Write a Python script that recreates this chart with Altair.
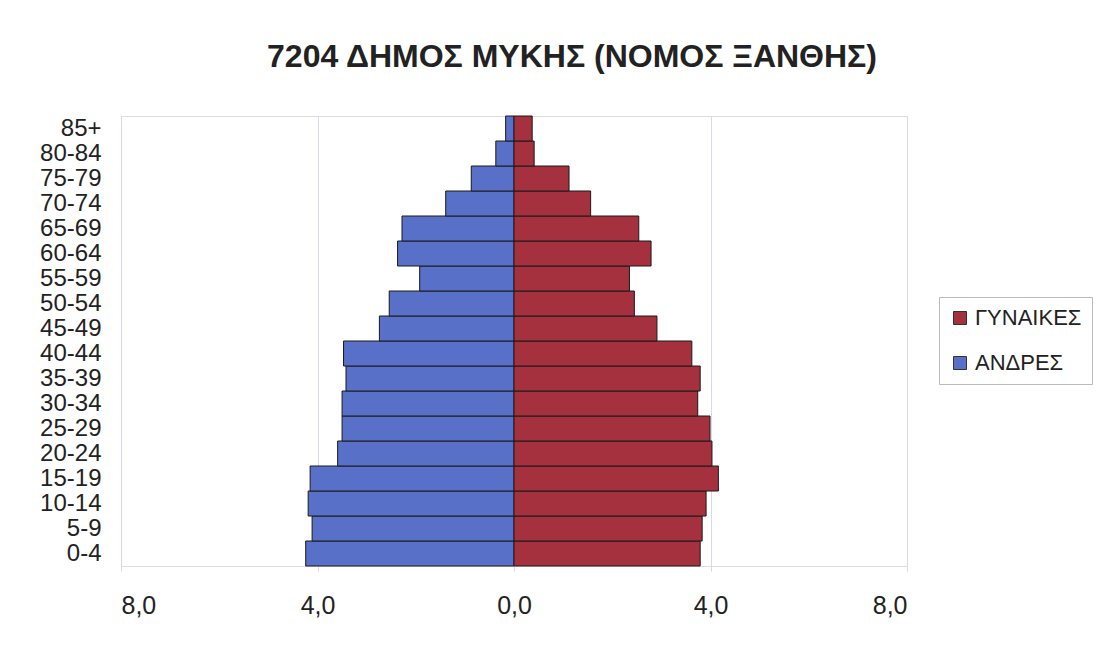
import altair as alt
import pandas as pd

ages = ["0-4", "5-9", "10-14", "15-19", "20-24", "25-29", "30-34", "35-39",
        "40-44", "45-49", "50-54", "55-59", "60-64", "65-69", "70-74",
        "75-79", "80-84", "85+"]
men = [4.24, 4.11, 4.19, 4.15, 3.59, 3.50, 3.50, 3.42, 3.47, 2.74, 2.54,
       1.92, 2.37, 2.28, 1.39, 0.87, 0.37, 0.17]
women = [3.79, 3.83, 3.91, 4.16, 4.03, 3.99, 3.74, 3.79, 3.62, 2.91, 2.45,
         2.35, 2.79, 2.54, 1.56, 1.12, 0.41, 0.37]
series = ["ΓΥΝΑΙΚΕΣ", "ΑΝΔΡΕΣ"]
colors = ["#a5313f", "#5870c8"]
x_ticks = [-8, -4, 0, 4, 8]
title_text = "7204 ΔΗΜΟΣ ΜΥΚΗΣ (ΝΟΜΟΣ ΞΑΝΘΗΣ)"

rows = []
for a, m, w in zip(ages, men, women):
    rows.append({"age": a, "sex": series[1], "value": -m})
    rows.append({"age": a, "sex": series[0], "value": w})
df = pd.DataFrame(rows)

FONT = "Liberation Sans"

bars = alt.Chart(df).mark_bar(stroke="#1a1a1a", strokeWidth=1).encode(
    y=alt.Y("age:N", sort=list(reversed(ages)),
            scale=alt.Scale(paddingInner=0, paddingOuter=0),
            axis=alt.Axis(title=None, ticks=False, domain=False, grid=False,
                          labelFont=FONT, labelFontSize=24, labelColor="#222",
                          labelPadding=20)),
    x=alt.X("value:Q", scale=alt.Scale(domain=[-8, 8], nice=False),
            axis=alt.Axis(title=None, values=x_ticks, domain=False,
                          tickSize=5, tickColor="#d8d8d8",
                          grid=True, gridColor="#d6dbe6", gridWidth=1,
                          labelFont=FONT, labelFontSize=25, labelColor="#222",
                          labelPadding=22,
                          labelExpr="replace(format(abs(datum.value), '.1f'), '.', ',')")),
    color=alt.Color("sex:N",
                    scale=alt.Scale(domain=series, range=colors),
                    legend=alt.Legend(title=None, orient="none",
                                      legendX=818, legendY=181,
                                      symbolType="square", symbolSize=169,
                                      symbolStrokeColor="#333", symbolStrokeWidth=1,
                                      labelFont=FONT, labelFontSize=22,
                                      labelColor="#222", labelOffset=4,
                                      labelLimit=400,
                                      rowPadding=23, padding=10,
                                      strokeColor="#bbbbbb", fillColor="white")),
)

chart = bars.properties(
    width=786,
    height=450,
    title=alt.TitleParams(text=title_text, font=FONT, fontSize=32,
                          fontWeight="bold", color="#222", anchor="middle",
                          dx=58, offset=17, baseline="alphabetic"),
    autosize=alt.AutoSizeParams(type="none"),
    padding={"left": 113, "top": 108, "right": 186, "bottom": 64},
).configure_view(stroke="#888888", strokeWidth=1).configure(background="white")

chart.save("out.html", embed_options={"renderer": "svg", "actions": False})
